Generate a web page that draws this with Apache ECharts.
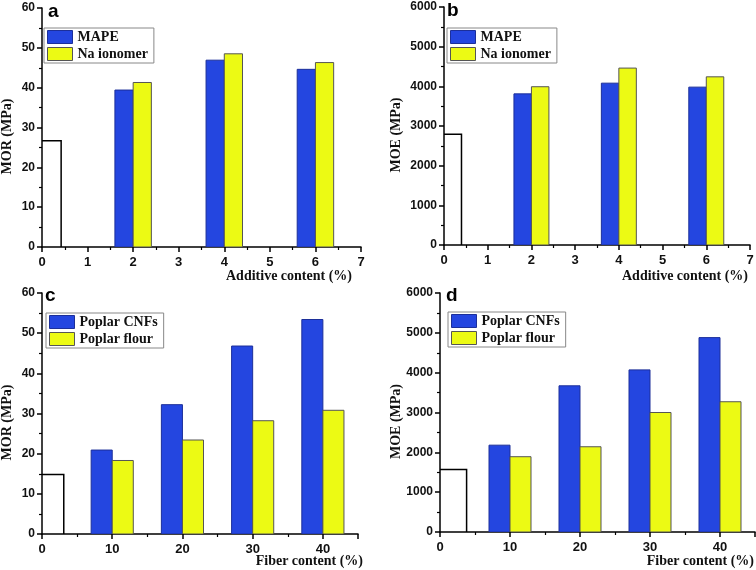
<!DOCTYPE html>
<html><head><meta charset="utf-8">
<script src="https://cdn.jsdelivr.net/npm/echarts@6/dist/echarts.min.js"></script>
<style>html,body{margin:0;padding:0;background:#fff}#c{width:756px;height:570px}</style>
</head><body><div id="c"></div>
<script>
// ---- data ----
const additiveContent = [2, 4, 6];
const morMAPE = [39.4, 46.9, 44.6];
const morNaIonomer = [41.3, 48.5, 46.3];
const morControlA = [[0, 26.7]];
const moeMAPE = [3810, 4080, 3980];
const moeNaIonomer = [3990, 4460, 4240];
const moeControlB = [[0, 2790]];
const fiberContent = [10, 20, 30, 40];
const morCNF = [20.9, 32.2, 46.8, 53.4];
const morFlour = [18.3, 23.4, 28.2, 30.8];
const morControlC = [[0, 14.8]];
const moeCNF = [2180, 3670, 4070, 4880];
const moeFlour = [1890, 2140, 3000, 3270];
const moeControlD = [[0, 1570]];
const panelLetters = ['a', 'b', 'c', 'd'];
const xAxisNames = ['Additive content (%)', 'Additive content (%)', 'Fiber content (%)', 'Fiber content (%)'];
const yAxisNames = ['MOR (MPa)', 'MOE (MPa)', 'MOR (MPa)', 'MOE (MPa)'];

// ---- style ----
const BLUE = '#2446e0', BLUE_EDGE = '#1c2f9a';
const YELLOW = '#ecfa14', YELLOW_EDGE = '#555';
const SANS = 'Liberation Sans', SERIF = 'Liberation Serif';

function pairs(xs, ys) { return xs.map((x, i) => [x, ys[i]]); }
function barRenderer(o0, o1, fill, stroke, lw) {
  return function (params, api) {
    const x = api.value(0), y = api.value(1);
    const p0 = api.coord([x + o0, y]);
    const p1 = api.coord([x + o1, 0]);
    return { type: 'rect', shape: { x: p0[0], y: p0[1], width: p1[0] - p0[0], height: p1[1] - p0[1] },
      style: { fill: fill, stroke: stroke, lineWidth: lw } };
  };
}
function bars(name, idx, data, o0, o1, fill, stroke, lw) {
  return { type: 'custom', name: name, coordinateSystem: 'cartesian2d', xAxisIndex: idx, yAxisIndex: idx,
    encode: { x: 0, y: 1 }, data: data, clip: true, renderItem: barRenderer(o0, o1, fill, stroke, lw),
    itemStyle: { color: fill, borderColor: stroke } };
}

const grids = [
  { left: 42, top: 8, width: 319, height: 239 },
  { left: 444, top: 7, width: 306, height: 238 },
  { left: 42, top: 293, width: 316, height: 241 },
  { left: 440, top: 293, width: 315, height: 239 }
].map(g => Object.assign({ containLabel: false, outerBoundsMode: 'none' }, g));
const axisLine = { lineStyle: { color: '#000', width: 1.5 } };
const tick = { length: 5, lineStyle: { color: '#000', width: 1.5 } };
const minor = { show: true, splitNumber: 2, length: 3, lineStyle: { color: '#000', width: 1.2 } };
const tickLabel = { fontFamily: SANS, fontWeight: 'bold', color: '#111', hideOverlap: false,
  formatter: v => String(v) };

function xAx(i, max, interval) {
  return { type: 'value', gridIndex: i, min: 0, max: max, interval: interval,
    axisLine: axisLine, axisTick: tick, minorTick: minor, splitLine: { show: false },
    axisLabel: Object.assign({ margin: 9, fontSize: 13, showMaxLabel: max % interval === 0, showMinLabel: true }, tickLabel) };
}
function yAx(i, max, interval, gap) {
  return { type: 'value', gridIndex: i, min: 0, max: max, interval: interval,
    axisLine: Object.assign({ show: true }, axisLine), axisTick: Object.assign({ show: true }, tick),
    minorTick: minor, splitLine: { show: false },
    axisLabel: Object.assign({ margin: 7, fontSize: 12, showMinLabel: true, showMaxLabel: true }, tickLabel),
    name: yAxisNames[i], nameLocation: 'middle', nameGap: gap, nameMoveOverlap: false,
    nameTextStyle: { fontFamily: SERIF, fontWeight: 'bold', fontSize: 14, color: '#111', padding: [0, 18, 0, 0] } };
}
function legend(pos, names) {
  return Object.assign({
    orient: 'vertical', selectedMode: false, itemWidth: 25, itemHeight: 13, itemGap: 3,
    padding: [2, 6, 2, 3], borderColor: '#888', borderWidth: 1, borderRadius: 0,
    textStyle: { fontFamily: SERIF, fontWeight: 'bold', fontSize: 14, color: '#111' },
    data: [
      { name: names[0], icon: 'rect', itemStyle: { color: BLUE, borderColor: BLUE_EDGE, borderWidth: 1 } },
      { name: names[1], icon: 'rect', itemStyle: { color: YELLOW, borderColor: YELLOW_EDGE, borderWidth: 1 } }
    ]
  }, pos);
}

const titlePos = [{ left: 48, top: 2 }, { left: 447, top: 1 }, { left: 45, top: 286 }, { left: 446, top: 286 }];
// x-axis name anchor (right end, vertical centre)
const xNamePos = [[352, 276], [748, 276], [363, 561], [754, 561]];

const option = {
  animation: false,
  backgroundColor: '#fff',
  title: panelLetters.map((t, i) => Object.assign({ text: t, padding: 0,
    textStyle: { fontFamily: SANS, fontWeight: 'bold', fontSize: 19, color: '#000' } }, titlePos[i])),
  legend: [
    legend({ left: 44, top: 28 }, ['MAPE', 'Na ionomer']),
    legend({ left: 447, top: 28 }, ['MAPE', 'Na ionomer']),
    legend({ left: 46, top: 313 }, ['Poplar CNFs', 'Poplar flour']),
    legend({ left: 448, top: 312 }, ['Poplar CNFs', 'Poplar flour'])
  ],
  graphic: xAxisNames.map((n, i) => ({ type: 'text', x: xNamePos[i][0], y: xNamePos[i][1],
    style: { text: n, fontFamily: SERIF, fontWeight: 'bold', fontSize: 14, fill: '#111',
      align: 'right', verticalAlign: 'middle' } })),
  grid: grids,
  xAxis: [xAx(0, 7, 1), xAx(1, 7, 1), xAx(2, 45, 10), xAx(3, 45, 10)],
  yAxis: [yAx(0, 60, 10, 28), yAx(1, 6000, 1000, 41), yAx(2, 60, 10, 28), yAx(3, 6000, 1000, 37)],
  series: [
    bars('Control', 0, morControlA, 0, 0.42, '#fff', '#000', 1.5),
    bars('MAPE', 0, pairs(additiveContent, morMAPE), -0.4, 0, BLUE, BLUE_EDGE, 1),
    bars('Na ionomer', 0, pairs(additiveContent, morNaIonomer), 0, 0.4, YELLOW, YELLOW_EDGE, 1),
    bars('Control', 1, moeControlB, 0, 0.4, '#fff', '#000', 1.5),
    bars('MAPE', 1, pairs(additiveContent, moeMAPE), -0.4, 0, BLUE, BLUE_EDGE, 1),
    bars('Na ionomer', 1, pairs(additiveContent, moeNaIonomer), 0, 0.4, YELLOW, YELLOW_EDGE, 1),
    bars('Control', 2, morControlC, 0, 3.1, '#fff', '#000', 1.5),
    bars('Poplar CNFs', 2, pairs(fiberContent, morCNF), -3, 0, BLUE, BLUE_EDGE, 1),
    bars('Poplar flour', 2, pairs(fiberContent, morFlour), 0, 3, YELLOW, YELLOW_EDGE, 1),
    bars('Control', 3, moeControlD, 0, 3.8, '#fff', '#000', 1.5),
    bars('Poplar CNFs', 3, pairs(fiberContent, moeCNF), -3, 0, BLUE, BLUE_EDGE, 1),
    bars('Poplar flour', 3, pairs(fiberContent, moeFlour), 0, 3, YELLOW, YELLOW_EDGE, 1)
  ]
};
const chart = echarts.init(document.getElementById('c'), null, { renderer: 'canvas' });
chart.setOption(option);
</script></body></html>
